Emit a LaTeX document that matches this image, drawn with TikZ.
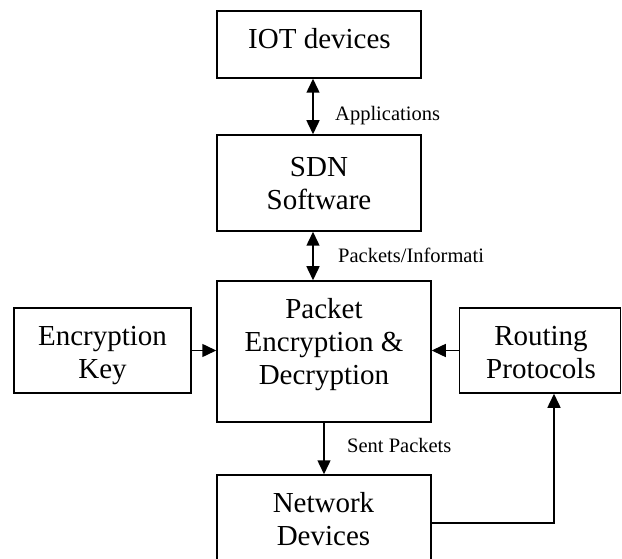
\documentclass[tikz,border=0pt]{standalone}
\usepackage{fontspec}
\setmainfont{Liberation Serif}
\usetikzlibrary{arrows.meta}
\newcommand{\mlines}[1]{\begin{tabular}[t]{@{}c@{}}#1\end{tabular}}
\begin{document}
\begin{tikzpicture}[x=1pt,y=-1pt,
  box/.style={draw, line width=1.5pt, rectangle, inner sep=0pt},
  txt/.style={inner sep=0pt, anchor=base, font=\fontsize{29}{33}\selectfont},
  lbl/.style={inner sep=0pt, anchor=base west, font=\fontsize{20.5}{22}\selectfont},
  arr/.style={line width=1.5pt, -{Triangle[length=14pt,width=13pt]}},
  darr/.style={line width=1.5pt, {Triangle[length=14pt,width=13pt]}-{Triangle[length=14pt,width=13pt]}}]
\useasboundingbox (0,0) rectangle (622,559);
% boxes
\node[box, minimum width=204pt, minimum height=67pt] (iot) at (319,44.5) {};
\node[box, minimum width=204pt, minimum height=96pt] (sdn) at (319,183) {};
\node[box, minimum width=214pt, minimum height=141pt] (pkt) at (324,351.5) {};
\node[box, minimum width=177pt, minimum height=85pt] (key) at (102.5,350.5) {};
\node[box, minimum width=161pt, minimum height=85pt] (rout) at (540,350.5) {};
\node[box, minimum width=214pt, minimum height=88pt] (net) at (324,519) {};
% box texts
\node[txt] (tiot) at (319.5,49) {IOT devices};
\node[txt] (tsdn) at (319,177) {\mlines{SDN\\Software}};
\node[txt] (tpkt) at (324,319) {\mlines{Packet\\Encryption \&\\Decryption}};
\node[txt] (tkey) at (102.5,345) {\mlines{Encryption\\Key}};
\node[txt] (trout) at (541,345) {\mlines{Routing\\Protocols}};
\node[txt] (tnet) at (323.5,512) {\mlines{Network\\Devices}};
% connectors
\draw[darr] ([xshift=-6pt]iot.south) -- ([xshift=-6pt]sdn.north);
\draw[darr] ([xshift=-6pt]sdn.south) -- ([xshift=-6pt]sdn.south |- pkt.north);
\draw[arr] (pkt.south) -- (net.north);
\draw[arr] (key.east) -- (key.east -| pkt.west);
\draw[arr] (rout.west) -- (rout.west -| pkt.east);
\draw[arr] ([yshift=-4pt]net.east) -| ([xshift=14pt]rout.south);
% labels
\node[lbl] (lapp) at (335,121) {Applications};
\node[lbl] (lpk) at (338,262) {Packets/Informati};
\node[lbl] (lsent) at (347,452) {Sent Packets};
\end{tikzpicture}
\end{document}
